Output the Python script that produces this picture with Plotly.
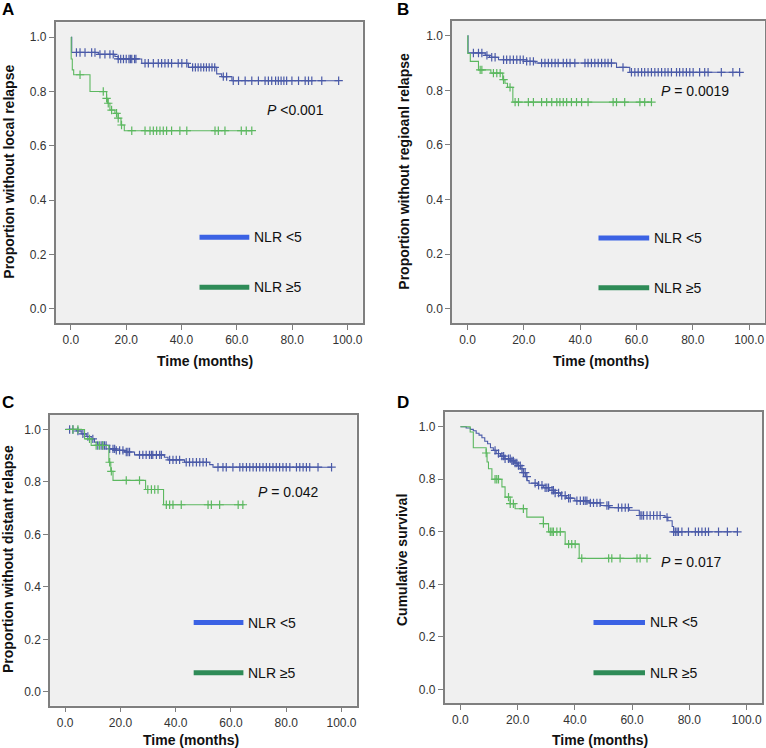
import plotly.graph_objects as go

# ---------------- DATA ----------------
panel_labels = ["A", "B", "C", "D"]
y_titles = ["Proportion without local relapse", "Proportion without regioanl relapse",
            "Proportion without distant relapse", "Cumulative survival"]
x_title = "Time (months)"
p_texts = ["<i>P</i> <0.001", "<i>P</i> = 0.0019", "<i>P</i> = 0.042", "<i>P</i> = 0.017"]
group_names = ["NLR <5", "NLR ≥5"]
x_ticks = [0, 20, 40, 60, 80, 100]
y_ticks = [0.0, 0.2, 0.4, 0.6, 0.8, 1.0]

# Panel A (local relapse)
A_low_t = [0.3, 9.9, 15.9, 17.1, 25.6, 42.5, 52.7, 54.5, 58.2]
A_low_s = [0.944, 0.937, 0.929, 0.92, 0.904, 0.889, 0.865, 0.855, 0.84]
A_low_end = 96.8
A_low_c = [2.0, 3.3, 5.1, 7.5, 8.7, 10.5, 12.3, 14.1, 15.3, 17.1, 18.0, 19.0, 20.0, 21.0, 21.5,
           22.0, 23.0, 23.5, 26.8, 28.0, 29.8, 31.6, 32.8, 34.0, 35.2, 36.4, 38.8, 40.1, 41.9,
           44.0, 45.0, 46.0, 47.0, 48.0, 49.0, 50.0, 51.0, 52.0, 55.1, 56.3, 58.7, 60.6, 63.0,
           65.4, 67.8, 70.2, 71.4, 72.6, 74.0, 75.0, 76.0, 77.0, 78.0, 79.9, 82.3, 84.7, 85.9,
           87.1, 90.7, 96.8]
A_high_t = [0.1, 0.5, 1.0, 6.9, 12.9, 13.2, 14.1, 15.9, 17.1, 18.1, 19.3]
A_high_s = [0.92, 0.88, 0.862, 0.80, 0.775, 0.757, 0.732, 0.72, 0.702, 0.677, 0.656]
A_high_end = 65.4
A_high_c = [3.3, 11.7, 12.9, 13.5, 14.7, 16.5, 17.1, 18.3, 22.0, 26.8, 28.6, 29.8, 31.0, 32.2,
            33.4, 34.6, 36.4, 39.4, 41.9, 52.1, 53.3, 55.7, 61.6, 63.4, 65.4]

# Panel B (regional relapse)
B_low_t = [0.2, 6.3, 7.8, 11.0, 21.0, 24.0, 52.9, 57.6]
B_low_s = [0.937, 0.928, 0.921, 0.912, 0.906, 0.90, 0.884, 0.866]
B_low_end = 96.6
B_low_c = [2.1, 3.9, 5.1, 6.9, 8.6, 9.8, 12.8, 13.9, 15.1, 16.3, 17.5, 18.7, 19.8, 21.0, 22.2,
           23.4, 26.3, 27.5, 28.7, 29.9, 31.1, 32.2, 34.0, 35.2, 36.4, 38.1, 41.7, 42.8, 44.0,
           45.2, 46.4, 47.6, 48.8, 49.9, 51.1, 55.2, 58.2, 59.4, 60.6, 61.8, 62.9, 64.1, 65.3,
           66.5, 67.7, 68.9, 70.1, 71.2, 72.4, 74.2, 75.3, 76.5, 77.7, 78.9, 80.1, 82.4, 84.2,
           85.4, 90.1, 94.2, 96.6]
B_high_t = [0.1, 1.0, 3.9, 8.3, 12.5, 13.3, 14.2, 16.1]
B_high_s = [0.935, 0.906, 0.875, 0.863, 0.839, 0.826, 0.811, 0.757]
B_high_end = 65.3
B_high_c = [4.5, 5.1, 9.2, 10.4, 11.6, 12.8, 15.1, 16.9, 18.1, 21.6, 23.4, 26.3, 28.1, 29.9,
            31.7, 32.8, 34.0, 35.2, 36.9, 38.7, 40.5, 42.8, 51.7, 52.9, 55.8, 61.2, 62.9, 65.3]

# Panel C (distant relapse)
C_low_t = [4.0, 5.8, 7.6, 9.4, 10.6, 11.8, 16.0, 18.5, 21.5, 25.1, 35.9, 37.2, 43.2, 52.3, 53.5]
C_low_s = [0.994, 0.983, 0.973, 0.964, 0.951, 0.939, 0.926, 0.92, 0.914, 0.903, 0.894, 0.884,
           0.875, 0.866, 0.856]
C_low_end = 96.4
C_low_c = [1.6, 2.8, 4.6, 6.4, 8.2, 10.0, 11.8, 13.0, 13.6, 14.2, 14.8, 16.1, 17.3, 17.9, 18.5,
           19.7, 20.9, 22.1, 22.7, 23.3, 26.9, 28.1, 29.3, 30.5, 31.2, 31.7, 33.0, 34.2, 34.8,
           37.8, 39.0, 40.2, 41.4, 43.8, 45.0, 46.2, 47.5, 48.7, 49.9, 51.1, 55.3, 57.1, 58.3,
           60.7, 63.2, 64.3, 65.6, 66.8, 68.0, 69.2, 70.4, 71.6, 72.8, 74.0, 75.2, 76.4, 77.6,
           78.8, 80.0, 81.3, 83.7, 84.9, 86.1, 87.3, 88.5, 91.5, 96.4]
C_high_t = [7.0, 9.4, 15.8, 16.5, 17.3, 29.1, 35.6]
C_high_s = [0.964, 0.939, 0.875, 0.84, 0.806, 0.771, 0.713]
C_high_end = 65.0
C_high_c = [2.8, 4.6, 8.8, 11.2, 12.4, 13.6, 16.1, 16.7, 22.1, 26.9, 29.9, 31.2, 32.4, 33.6,
            36.6, 37.8, 39.0, 42.0, 51.7, 52.9, 55.9, 62.6, 64.3]

# Panel D (overall survival)
D_low_t = [2.0, 3.5, 4.5, 5.5, 6.5, 7.5, 8.5, 9.5, 10.5, 11.5, 12.5, 14.0, 15.5, 17.5, 19.0,
           20.0, 21.0, 22.0, 22.8, 23.3, 24.0, 27.0, 29.0, 31.0, 33.0, 35.0, 37.0, 40.0, 45.0,
           49.0, 52.0, 59.0, 62.5, 71.5, 72.5, 74.0, 74.5]
D_low_s = [0.995, 0.99, 0.985, 0.975, 0.968, 0.958, 0.945, 0.935, 0.92, 0.91, 0.898, 0.888,
           0.878, 0.87, 0.862, 0.852, 0.84, 0.825, 0.81, 0.795, 0.785, 0.777, 0.768, 0.758,
           0.748, 0.738, 0.728, 0.718, 0.71, 0.70, 0.692, 0.682, 0.662, 0.655, 0.642, 0.62, 0.60]
D_low_end = 96.8
D_low_c = [12.1, 13.3, 14.5, 15.1, 15.6, 16.8, 17.4, 18.0, 18.5, 19.1, 19.7, 20.3, 20.9, 21.5,
           22.0, 22.6, 23.2, 26.1, 27.3, 28.5, 29.6, 30.2, 30.8, 32.0, 32.5, 33.1, 34.3, 35.4,
           36.6, 37.8, 38.4, 40.7, 41.9, 43.0, 43.6, 44.2, 45.4, 46.5, 47.7, 48.8, 51.2, 51.8,
           55.2, 56.4, 57.6, 58.7, 62.8, 63.4, 64.0, 65.2, 66.3, 67.5, 68.7, 69.8, 72.2, 74.5,
           75.1, 75.7, 76.2, 77.4, 79.7, 82.1, 83.2, 84.4, 85.6, 86.7, 90.2, 93.3, 96.8]
D_high_t = [3.4, 4.5, 9.0, 9.3, 9.8, 11.0, 14.5, 15.6, 17.4, 19.1, 23.2, 29.0, 30.8, 36.6, 41.5]
D_high_s = [0.98, 0.92, 0.90, 0.866, 0.84, 0.80, 0.771, 0.732, 0.707, 0.688, 0.656, 0.631,
            0.60, 0.553, 0.499]
D_high_end = 65.2
D_high_c = [9.0, 12.1, 12.7, 13.3, 16.8, 17.4, 18.5, 22.0, 29.0, 31.4, 32.0, 32.5, 33.7, 34.9,
            37.8, 38.9, 40.1, 42.4, 51.8, 52.9, 55.8, 61.7, 62.8, 65.2]

panels = [
    (A_low_t, A_low_s, A_low_end, A_low_c, A_high_t, A_high_s, A_high_end, A_high_c),
    (B_low_t, B_low_s, B_low_end, B_low_c, B_high_t, B_high_s, B_high_end, B_high_c),
    (C_low_t, C_low_s, C_low_end, C_low_c, C_high_t, C_high_s, C_high_end, C_high_c),
    (D_low_t, D_low_s, D_low_end, D_low_c, D_high_t, D_high_s, D_high_end, D_high_c),
]

# ---------------- STYLE / LAYOUT ----------------
W, H = 766, 748
FONT = "Arial, Liberation Sans, sans-serif"
BLUE_CURVE = "#4a5aa8"
GREEN_CURVE = "#5cb860"
BLUE_LEG = "#3b62e4"
GREEN_LEG = "#2e8b57"
FRAME = "#7f7f7f"

# plot-area boxes in pixels: (left, top, right, bottom)
boxes = [(55.7, 22.3, 362.7, 323.3), (452.0, 20.7, 764.7, 323.3),
         (50.0, 415.0, 356.7, 705.7), (444.7, 412.3, 762.3, 703.3)]
x_range = [-5.5, 105.5]
y_range = [-0.053, 1.055]
p_pos = [(70.0, 0.732), (67.9, 0.797), (69.2, 0.76), (69.5, 0.484)]
leg_y = [(0.264, 0.08), (0.259, 0.077), (0.264, 0.073), (0.255, 0.063)]
letter_pos = [(8, 9), (403, 9), (8, 402), (403, 402)]
ytitle_pos = [(9, 171.7), (404, 171.7), (8, 559), (402, 560)]
xtitle_pos = [(205, 361), (601, 361), (191, 740), (600, 740)]


def step_value(ts, ss, c):
    v = 1.0
    for t, s in zip(ts, ss):
        if t <= c:
            v = s
    return v


fig = go.Figure()
annotations = []
shapes = []

for i, (lt, ls, le, lc, ht, hs, he, hc) in enumerate(panels):
    n = "" if i == 0 else str(i + 1)
    xa, ya = "x" + n, "y" + n
    for ts, ss, end, cs, col in [(lt, ls, le, lc, BLUE_CURVE), (ht, hs, he, hc, GREEN_CURVE)]:
        fig.add_trace(go.Scatter(x=[0] + ts + [end], y=[1.0] + ss + [ss[-1]], mode="lines",
                                 line=dict(color=col, width=1.1, shape="hv"),
                                 xaxis=xa, yaxis=ya, showlegend=False, hoverinfo="skip"))
        fig.add_trace(go.Scatter(x=cs, y=[step_value(ts, ss, c) for c in cs], mode="markers",
                                 marker=dict(symbol="cross-thin", size=6,
                                             line=dict(color=col, width=1.2)),
                                 xaxis=xa, yaxis=ya, showlegend=False, hoverinfo="skip"))
    l, t, r, b = boxes[i]
    dom_x = [l / W, r / W]
    dom_y = [1 - b / H, 1 - t / H]
    ax_common = dict(showline=True, linecolor=FRAME, linewidth=1.5, mirror=True,
                     ticks="outside", ticklen=5, tickcolor=FRAME, tickwidth=1,
                     showgrid=False, zeroline=False,
                     tickfont=dict(family=FONT, size=12, color="#333333"))
    fig.update_layout(**{
        "xaxis" + n: dict(domain=dom_x, range=x_range, tickvals=x_ticks,
                          ticktext=[f"{v:.1f}" for v in x_ticks], anchor=ya, **ax_common),
        "yaxis" + n: dict(domain=dom_y, range=y_range, tickvals=y_ticks,
                          ticktext=[f"{v:.1f}" for v in y_ticks], anchor=xa, **ax_common),
    })
    # legend samples
    for yy, col, name in [(leg_y[i][0], BLUE_LEG, group_names[0]),
                          (leg_y[i][1], GREEN_LEG, group_names[1])]:
        shapes.append(dict(type="line", xref=xa, yref=ya, x0=46.5, x1=64.5, y0=yy, y1=yy,
                           line=dict(color=col, width=5)))
        annotations.append(dict(xref=xa, yref=ya, x=65.5, y=yy, text=name, showarrow=False,
                                xanchor="left", yanchor="middle",
                                font=dict(family=FONT, size=14, color="#111111")))
    # P value
    annotations.append(dict(xref=xa, yref=ya, x=p_pos[i][0], y=p_pos[i][1], text=p_texts[i],
                            showarrow=False, xanchor="left", yanchor="middle",
                            font=dict(family=FONT, size=14, color="#111111")))
    # panel letter
    annotations.append(dict(xref="paper", yref="paper", x=letter_pos[i][0] / W,
                            y=1 - letter_pos[i][1] / H, text="<b>" + panel_labels[i] + "</b>",
                            showarrow=False, xanchor="center", yanchor="middle",
                            font=dict(family=FONT, size=17, color="#000000")))
    # axis titles
    annotations.append(dict(xref="paper", yref="paper", x=ytitle_pos[i][0] / W,
                            y=1 - ytitle_pos[i][1] / H, text="<b>" + y_titles[i] + "</b>",
                            textangle=-90, showarrow=False, xanchor="center", yanchor="middle",
                            font=dict(family=FONT, size=14, color="#111111")))
    annotations.append(dict(xref="paper", yref="paper", x=xtitle_pos[i][0] / W,
                            y=1 - xtitle_pos[i][1] / H, text="<b>" + x_title + "</b>",
                            showarrow=False, xanchor="center", yanchor="middle",
                            font=dict(family=FONT, size=14, color="#111111")))

fig.update_layout(width=W, height=H, autosize=False,
                  margin=dict(l=0, r=0, t=0, b=0),
                  paper_bgcolor="white", plot_bgcolor="#f0f0f0",
                  annotations=annotations, shapes=shapes, showlegend=False)

fig.write_html("out.html", config={"displayModeBar": False},
               post_script="document.body.style.margin='0px';document.body.style.overflow='hidden';")
